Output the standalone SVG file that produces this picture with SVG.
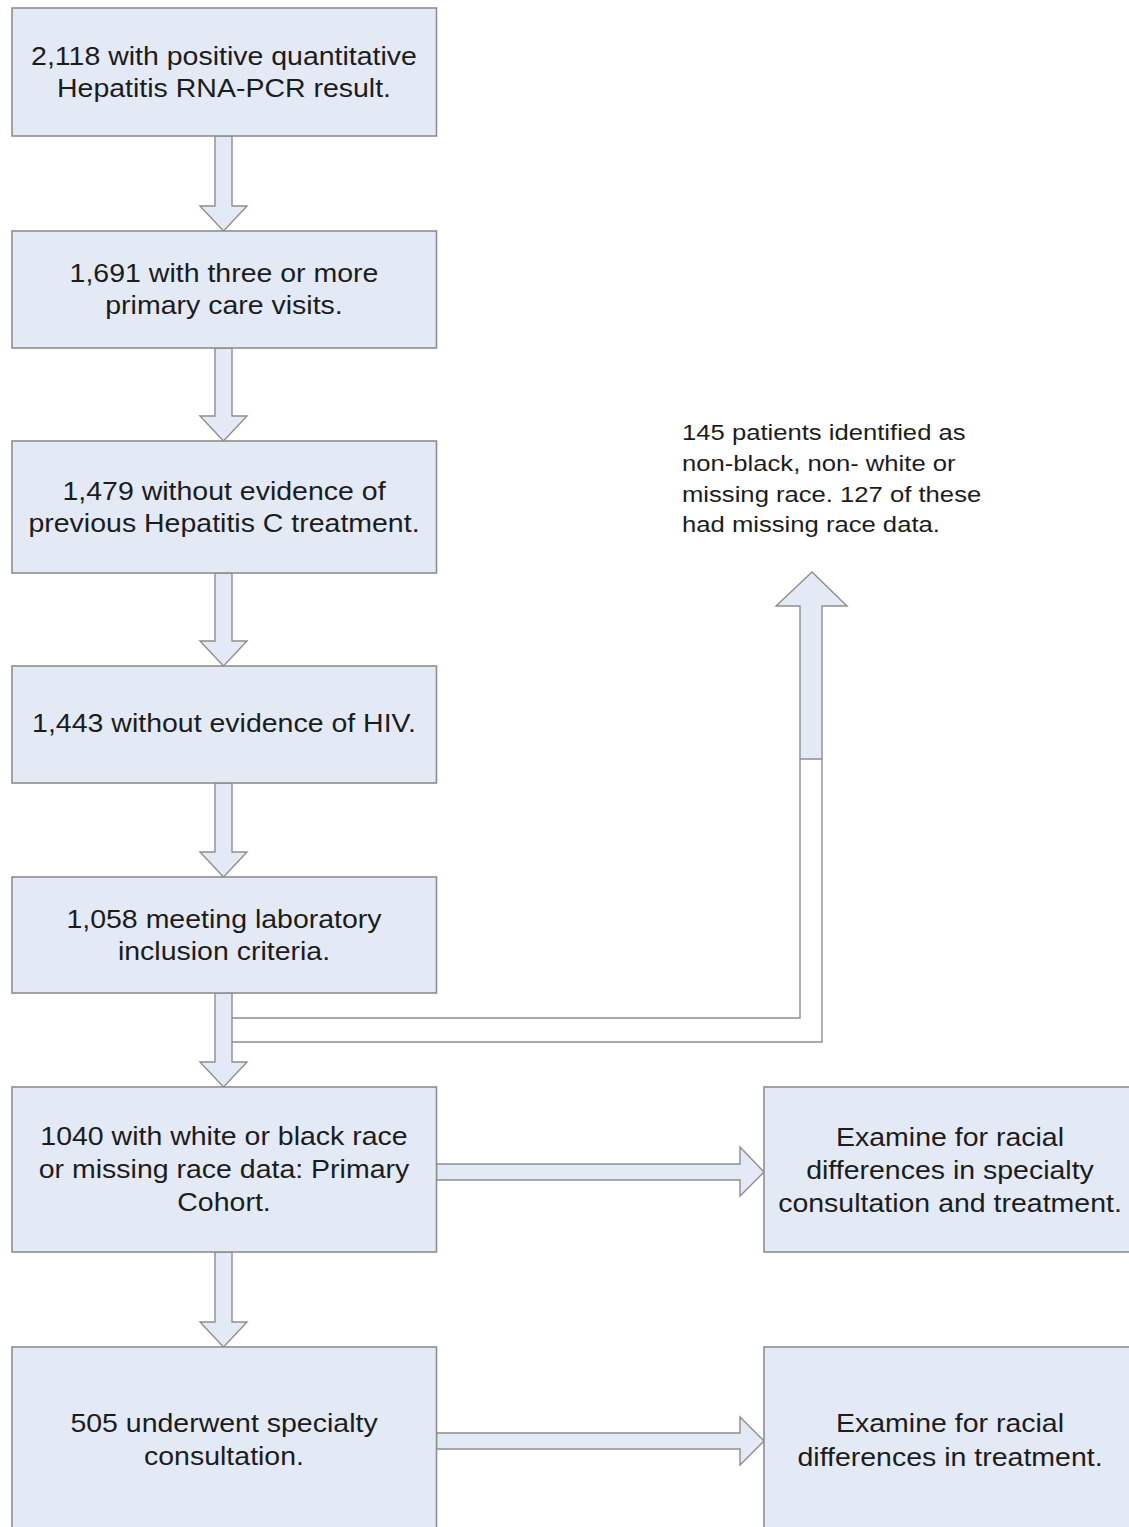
<svg xmlns="http://www.w3.org/2000/svg" width="1129" height="1527" viewBox="0 0 1129 1527">
<style>
.box{fill:#e4eaf5;stroke:#8e8e8e;stroke-width:1.6}
.arr{fill:#e4eaf5;stroke:#8e8e8e;stroke-width:1.4;stroke-linejoin:miter}
.ln{fill:none;stroke:#8e8e8e;stroke-width:1.4}
text{font-family:"Liberation Sans",Arial,sans-serif;fill:#1c1c1c}
.t{font-size:25px;text-anchor:middle}
.s{font-size:22.5px}
</style>
<rect width="1129" height="1527" fill="#ffffff"/>
<g id="connectors">
  <path class="arr" d="M215,136 V206 H200 L223.5,231 L247,206 H232 V136 Z"/>
  <path class="arr" d="M215,348 V416 H200 L223.5,441 L247,416 H232 V348 Z"/>
  <path class="arr" d="M215,573 V641 H200 L223.5,666 L247,641 H232 V573 Z"/>
  <path class="arr" d="M215,783 V852 H200 L223.5,877 L247,852 H232 V783 Z"/>
  <path class="arr" d="M215,993 V1062 H200 L223.5,1087 L247,1062 H232 V993 Z"/>
  <path class="arr" d="M215,1252 V1322 H200 L223.5,1347 L247,1322 H232 V1252 Z"/>
  <path class="arr" d="M436.5,1164 H740 V1147 L764,1172 L740,1196 V1180 H436.5 Z"/>
  <path class="arr" d="M436.5,1433 H740 V1417 L764,1441 L740,1465 V1449 H436.5 Z"/>
  <path class="arr" d="M800,759 V606 H776 L812,572 L847,606 H822 V759 Z"/>
  <path class="ln" d="M232,1018 H800 V759 M232,1042 H822 V759"/>
</g>
<g id="n1"><rect class="box" x="12" y="8" width="424.5" height="128"/>
<g transform="translate(224 0) scale(1.14 1)"><text class="t" y="65">2,118 with positive quantitative</text><text class="t" y="97">Hepatitis RNA-PCR result.</text></g></g>
<g id="n2"><rect class="box" x="12" y="231" width="424.5" height="117"/>
<g transform="translate(224 0) scale(1.14 1)"><text class="t" y="282">1,691 with three or more</text><text class="t" y="314">primary care visits.</text></g></g>
<g id="n3"><rect class="box" x="12" y="441" width="424.5" height="132"/>
<g transform="translate(224 0) scale(1.14 1)"><text class="t" y="500">1,479 without evidence of</text><text class="t" y="532">previous Hepatitis C treatment.</text></g></g>
<g id="n4"><rect class="box" x="12" y="666" width="424.5" height="117"/>
<g transform="translate(224 0) scale(1.14 1)"><text class="t" y="732">1,443 without evidence of HIV.</text></g></g>
<g id="n5"><rect class="box" x="12" y="877" width="424.5" height="116"/>
<g transform="translate(224 0) scale(1.14 1)"><text class="t" y="928">1,058 meeting laboratory</text><text class="t" y="960">inclusion criteria.</text></g></g>
<g id="n6"><rect class="box" x="12" y="1087" width="424.5" height="165"/>
<g transform="translate(224 0) scale(1.14 1)"><text class="t" y="1145">1040 with white or black race</text><text class="t" y="1178">or missing race data: Primary</text><text class="t" y="1211">Cohort.</text></g></g>
<g id="n7"><rect class="box" x="12" y="1347" width="424.5" height="200"/>
<g transform="translate(224 0) scale(1.14 1)"><text class="t" y="1432">505 underwent specialty</text><text class="t" y="1465">consultation.</text></g></g>
<g id="r1"><rect class="box" x="764" y="1087" width="380" height="165"/>
<g transform="translate(950 0) scale(1.14 1)"><text class="t" y="1146">Examine for racial</text><text class="t" y="1179">differences in specialty</text><text class="t" y="1212">consultation and treatment.</text></g></g>
<g id="r2"><rect class="box" x="764" y="1347" width="380" height="200"/>
<g transform="translate(950 0) scale(1.14 1)"><text class="t" y="1432">Examine for racial</text><text class="t" y="1466">differences in treatment.</text></g></g>
<g id="note"><g transform="translate(682 0) scale(1.14 1)"><text class="s" y="440">145 patients identified as</text><text class="s" y="471">non-black, non- white or</text><text class="s" y="502">missing race. 127 of these</text><text class="s" y="532">had missing race data.</text></g></g>
</svg>
